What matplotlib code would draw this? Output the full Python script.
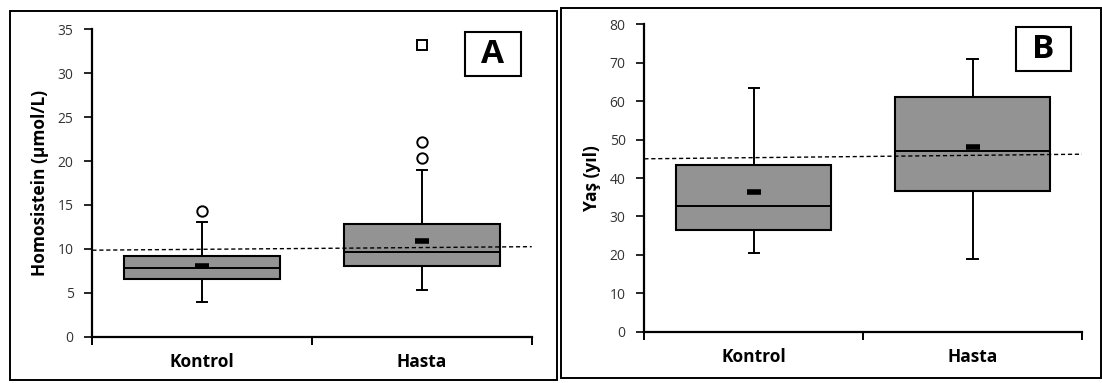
import matplotlib
matplotlib.use('Agg')
import matplotlib.pyplot as plt
from matplotlib.patches import Rectangle

categories = ["Kontrol", "Hasta"]

# panel A: Homosistein (umol/L)
hcy_q1 = [6.6, 8.1]
hcy_median = [7.8, 9.6]
hcy_q3 = [9.2, 12.85]
hcy_low = [3.9, 5.3]
hcy_high = [13.1, 19.0]
hcy_mean = [8.0, 10.9]
hcy_outliers = [[14.35], [20.3, 22.2]]
hcy_extreme = [[], [33.25]]
hcy_ref = [9.85, 10.25]   # dashed reference line, left and right end

# panel B: Yas (yil)
age_q1 = [26.5, 36.6]
age_median = [32.8, 47.0]
age_q3 = [43.4, 61.0]
age_low = [20.4, 19.0]
age_high = [63.4, 70.9]
age_mean = [36.4, 48.1]
age_outliers = [[], []]
age_extreme = [[], []]
age_ref = [45.0, 46.2]

plt.rcParams['font.family'] = ['Open Sans', 'DejaVu Sans']


def draw_panel(ax, q1, med, q3, lo, hi, mean, outl, extreme, ref,
               ymax, ystep, ylabel, letter):
    pos = [0.5, 1.5]
    width = 0.71
    for i, x in enumerate(pos):
        ax.plot([x, x], [lo[i], q1[i]], color='black', lw=1.4, zorder=1)
        ax.plot([x, x], [q3[i], hi[i]], color='black', lw=1.4, zorder=1)
        ax.plot([x - 0.024, x + 0.024], [lo[i]] * 2, color='black', lw=1.4)
        ax.plot([x - 0.024, x + 0.024], [hi[i]] * 2, color='black', lw=1.4)
        ax.add_patch(Rectangle((x - width / 2, q1[i]), width, q3[i] - q1[i],
                               facecolor='#939393', edgecolor='black',
                               lw=1.5, zorder=2))
        ax.plot([x - width / 2, x + width / 2], [med[i]] * 2,
                color='black', lw=1.4, zorder=3)
        ax.plot(x, mean[i], marker='_', ms=10, mew=4, color='black',
                zorder=4)
        if outl[i]:
            ax.plot([x] * len(outl[i]), outl[i], 'o', ms=7.5, mfc='white',
                    mec='black', mew=1.4, zorder=4)
        if extreme[i]:
            ax.plot([x] * len(extreme[i]), extreme[i], 's', ms=7.5,
                    mfc='white', mec='black', mew=1.4, zorder=4)
    ax.plot([0, 2], ref, color='black', lw=1.0, ls=(0, (3, 2)), zorder=5)

    ax.set_xlim(0, 2)
    ax.set_ylim(0, ymax)
    ax.set_yticks(range(0, ymax + 1, ystep))
    ax.set_xticks([0, 1, 2])
    ax.set_xticklabels([])
    ax.set_xticks(pos, minor=True)
    ax.set_xticklabels(categories, minor=True, fontsize=12.5,
                       fontweight='bold')
    ax.tick_params(axis='x', which='minor', length=0, pad=12)
    ax.tick_params(axis='x', which='major', length=5.5, width=1.4)
    ax.tick_params(axis='y', length=5.5, width=1.2, labelsize=10,
                   labelcolor='#333333', pad=8)
    for side in ['top', 'right']:
        ax.spines[side].set_visible(False)
    for side in ['left', 'bottom']:
        ax.spines[side].set_linewidth(1.6)
    ax.set_ylabel(ylabel, fontsize=12.5, fontweight='bold', labelpad=6)
    ax.add_patch(Rectangle((0.848, 0.849), 0.127, 0.143,
                           transform=ax.transAxes, fc='white', ec='black',
                           lw=1.5, clip_on=False, zorder=6))
    ax.text(0.9115, 0.918, letter, transform=ax.transAxes, fontsize=24,
            fontweight='bold', ha='center', va='center', zorder=7)


fig = plt.figure(figsize=(11.02, 3.83), dpi=100)
ax_a = fig.add_axes([0.0838, 0.1209, 0.3987, 0.8026])
ax_b = fig.add_axes([0.5847, 0.1339, 0.3972, 0.8026])

draw_panel(ax_a, hcy_q1, hcy_median, hcy_q3, hcy_low, hcy_high, hcy_mean,
           hcy_outliers, hcy_extreme, hcy_ref, 35, 5,
           "Homosistein (µmol/L)", "A")
draw_panel(ax_b, age_q1, age_median, age_q3, age_low, age_high, age_mean,
           age_outliers, age_extreme, age_ref, 80, 10,
           "Yaş (yıl)", "B")

# outer frames around both panels
fig.add_artist(Rectangle((9.5 / 1102, 1 - 380 / 383), 547.5 / 1102,
                         369.3 / 383, transform=fig.transFigure, fill=False,
                         ec='black', lw=1.4))
fig.add_artist(Rectangle((561 / 1102, 1 - 378 / 383), 540 / 1102,
                         369.7 / 383, transform=fig.transFigure, fill=False,
                         ec='black', lw=1.4))

fig.savefig("out.png", dpi=100)
